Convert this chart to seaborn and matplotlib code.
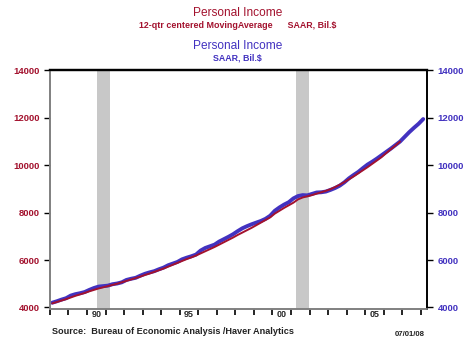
import numpy as np
import pandas as pd
import seaborn as sns
import matplotlib.pyplot as plt

# ── Data (quarterly, SAAR, Bil.$) ────────────────────────────────────
YEARS = list(range(1988, 2009))

# Personal Income, 1988Q1 .. 2008Q1
income = [
    4200, 4260, 4330, 4390,   # 1988
    4500, 4560, 4600, 4650,   # 1989
    4740, 4820, 4880, 4900,   # 1990
    4920, 4980, 5010, 5060,   # 1991
    5160, 5210, 5250, 5340,   # 1992
    5420, 5480, 5530, 5610,   # 1993
    5680, 5780, 5850, 5920,   # 1994
    6030, 6100, 6160, 6230,   # 1995
    6400, 6510, 6580, 6650,   # 1996
    6780, 6880, 6980, 7090,   # 1997
    7220, 7340, 7430, 7510,   # 1998
    7580, 7650, 7740, 7870,   # 1999
    8080, 8220, 8340, 8440,   # 2000
    8600, 8700, 8740, 8730,   # 2001
    8790, 8850, 8860, 8890,   # 2002
    8960, 9040, 9140, 9280,   # 2003
    9450, 9590, 9720, 9880,   # 2004
    10030, 10150, 10280, 10420,  # 2005
    10560, 10700, 10850, 11000,  # 2006
    11200, 11400, 11580, 11750,  # 2007
    11950,                       # 2008
]

# 12-qtr centered moving average, 1988Q1 .. 2006Q4
income_ma = [
    4170, 4230, 4290, 4350,
    4420, 4490, 4550, 4610,
    4680, 4740, 4800, 4850,
    4900, 4950, 5000, 5060,
    5120, 5180, 5240, 5300,
    5370, 5430, 5500, 5570,
    5640, 5720, 5800, 5880,
    5960, 6040, 6110, 6190,
    6280, 6370, 6460, 6550,
    6650, 6750, 6850, 6950,
    7060, 7160, 7260, 7360,
    7470, 7580, 7690, 7800,
    7960, 8080, 8200, 8310,
    8420, 8560, 8640, 8690,
    8740, 8800, 8860, 8920,
    8990, 9080, 9180, 9290,
    9410, 9530, 9660, 9790,
    9920, 10060, 10200, 10340,
    10510, 10670, 10830, 11000,
]

# Recessions (decimal years)
recessions = [(1990.54, 1991.22), (2001.29, 2001.97)]

year_labels = {1990: '90', 1995: '95', 2000: '00', 2005: '05'}

RED = '#a3122e'
BLUE = '#4232c0'


def quarter_dates(n):
    return [1988 + i / 4 + 0.125 for i in range(n)]


def main():
    df = pd.DataFrame({'date': quarter_dates(len(income)), 'value': income})
    ma = pd.DataFrame({'date': quarter_dates(len(income_ma)), 'value': income_ma})

    sns.set_style('white')
    plt.rcParams['font.family'] = ['Liberation Sans', 'DejaVu Sans']

    fig = plt.figure(figsize=(4.75, 3.59), dpi=100)
    ax = fig.add_axes([0.105, 0.139, 0.794, 0.666])

    for a, b in recessions:
        ax.axvspan(a, b, color='#c8c8c8', lw=0, zorder=0)

    sns.lineplot(data=df, x='date', y='value', color=BLUE, lw=2.8, ax=ax,
                 zorder=2)
    sns.lineplot(data=ma, x='date', y='value', color=RED, lw=1.4, ax=ax,
                 zorder=3)

    ax.set_xlim(1988.2, 2008.33)
    ax.set_ylim(3930, 14020)
    ax.set_xlabel('')
    ax.set_ylabel('')

    # x axis: ticks at year boundaries, labels mid-year
    ax.set_xticks(YEARS)
    ax.set_xticklabels([])
    ax.set_xticks([y + 0.5 for y in year_labels], minor=True)
    ax.set_xticklabels(list(year_labels.values()), minor=True)
    ax.tick_params(axis='x', which='major', direction='out', length=4,
                   width=1.2, color='black', bottom=True)
    ax.tick_params(axis='x', which='minor', length=0, pad=1,
                   labelsize=6.5, bottom=True)
    for t in ax.get_xticklabels(minor=True):
        t.set_fontweight('bold')

    yt = list(range(4000, 14001, 2000))
    ax.set_yticks(yt)
    ax.set_yticklabels([str(v) for v in yt])
    ax.tick_params(axis='y', direction='out', length=4, width=1,
                   colors='black', labelcolor=RED, labelsize=6.8, left=True)
    for t in ax.get_yticklabels():
        t.set_fontweight('bold')

    ax2 = ax.twinx()
    ax2.set_ylim(ax.get_ylim())
    ax2.set_yticks(yt)
    ax2.set_yticklabels([str(v) for v in yt])
    ax2.tick_params(axis='y', direction='out', length=4, width=1,
                    colors='black', labelcolor=BLUE, labelsize=6.8, right=True)
    for t in ax2.get_yticklabels():
        t.set_fontweight('bold')

    for a in (ax, ax2):
        for s in a.spines.values():
            s.set_visible(True)
        a.spines['left'].set_color('#808080')
        a.spines['bottom'].set_color('#808080')
        a.spines['left'].set_linewidth(1.2)
        a.spines['bottom'].set_linewidth(1.2)
        a.spines['top'].set_color('black')
        a.spines['top'].set_linewidth(1.6)
        a.spines['right'].set_color('black')
        a.spines['right'].set_linewidth(1.2)
        a.grid(False)

    # Titles
    fig.text(0.5, 1 - 13 / 359, 'Personal Income', color=RED, fontsize=8.6,
             ha='center', va='center')
    fig.text(0.5, 1 - 25 / 359,
             '12-qtr centered MovingAverage      SAAR, Bil.$',
             color=RED, fontsize=6.4, fontweight='bold',
             ha='center', va='center')
    fig.text(0.5, 1 - 46 / 359, 'Personal Income', color=BLUE, fontsize=8.6,
             ha='center', va='center')
    fig.text(0.5, 1 - 58 / 359, 'SAAR, Bil.$', color=BLUE, fontsize=6.4,
             fontweight='bold', ha='center', va='center')

    fig.text(52 / 475, 1 - 332 / 359,
             'Source:  Bureau of Economic Analysis /Haver Analytics',
             color='#222222', fontsize=6.6, fontweight='bold',
             ha='left', va='center')
    fig.text(425 / 475, 1 - 334 / 359, '07/01/08', color='#222222',
             fontsize=5.6, fontweight='bold', ha='right', va='center')

    fig.savefig('out.png', dpi=100)
    plt.close(fig)


if __name__ == '__main__':
    main()
